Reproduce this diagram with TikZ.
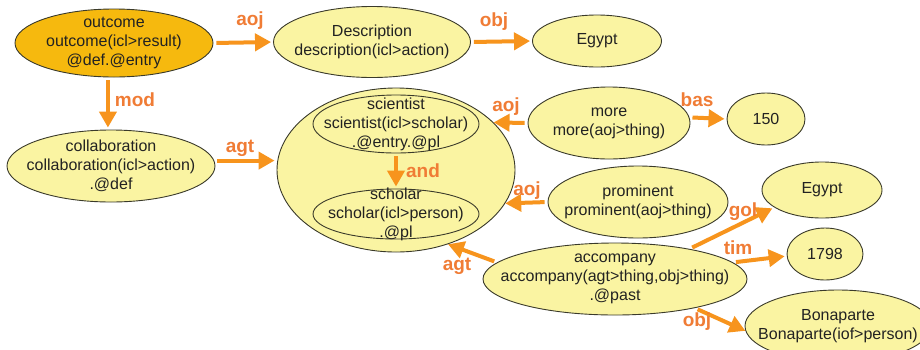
\documentclass[tikz,border=0pt]{standalone}
\usepackage{fontspec}
\setmainfont{Liberation Sans}
\usetikzlibrary{shapes.geometric,arrows.meta}
\definecolor{nodefill}{HTML}{FAF4A2}
\definecolor{rootfill}{HTML}{F6B90E}
\definecolor{arrowc}{HTML}{F7941D}
\definecolor{relc}{HTML}{F07C35}
\definecolor{rim}{HTML}{3A3A2A}
\definecolor{ink}{HTML}{222222}
\begin{document}
\begin{tikzpicture}[x=1pt,y=-1pt,
  ell/.style={ellipse, draw=rim, line width=0.9pt, fill=nodefill, inner sep=0pt},
  txt/.style={align=center, text=ink, font=\fontsize{16}{19}\selectfont, inner sep=0pt},
  rel/.style={text=relc, font=\fontsize{19}{22}\selectfont\bfseries, inner sep=0pt},
  arr/.style={draw=arrowc, line width=4pt, -{Triangle[length=16pt,width=17pt]}, shorten <=3pt, shorten >=2pt}]
\clip (0,0) rectangle (920,349);
\fill[white] (0,0) rectangle (920,349);

% concept nodes
\node[ell, fill=rootfill, minimum width=198pt, minimum height=68pt,
  label={[txt]center:outcome\\outcome(icl>result)\\@def.@entry}] (out) at (114,43) {};
\node[ell, minimum width=197pt, minimum height=71pt,
  label={[txt]center:Description\\description(icl>action)}] (desc) at (372,42) {};
\node[ell, minimum width=129pt, minimum height=52pt,
  label={[txt]center:Egypt}] (eg1) at (597,41) {};
\node[ell, minimum width=208pt, minimum height=72pt,
  label={[txt]center:collaboration\\collaboration(icl>action)\\.@def}] (col) at (111,166) {};

% compound node holding the two scholars
\node[ell, minimum width=238pt, minimum height=164pt] (big) at (396,170) {};
\node[ell, minimum width=166pt, minimum height=58pt,
  label={[txt]center:scientist\\scientist(icl>scholar)\\.@entry.@pl}] (sci) at (396,124) {};
\node[ell, minimum width=166pt, minimum height=50pt,
  label={[txt]center:scholar\\scholar(icl>person)\\.@pl}] (sch) at (396,214) {};

\node[ell, minimum width=162pt, minimum height=72pt,
  label={[txt]center:more\\more(aoj>thing)}] (more) at (609,123) {};
\node[ell, minimum width=78pt, minimum height=52pt,
  label={[txt]center:150}] (n150) at (766,119) {};
\node[ell, minimum width=180pt, minimum height=72pt,
  label={[txt]center:prominent\\prominent(aoj>thing)}] (prom) at (638,202) {};
\node[ell, minimum width=120pt, minimum height=56pt,
  label={[txt]center:Egypt}] (eg2) at (822,190) {};
\node[ell, minimum width=76pt, minimum height=52pt,
  label={[txt]center:1798}] (n1798) at (825,254) {};
\node[ell, minimum width=264pt, minimum height=72pt,
  label={[txt]center:accompany\\accompany(agt>thing,obj>thing)\\.@past}] (acc) at (615,279) {};
\node[ell, minimum width=186pt, minimum height=72pt,
  label={[txt]center:Bonaparte\\Bonaparte(iof>person)}] (bon) at (838,326) {};

% relations
\draw[arr] (out.east) -- (desc.west);
\draw[arr] (desc.east) -- (eg1.west);
\draw[arr] (out.260) -- (out.260 |- col.north);
\draw[arr] (col.3) -- (col.3 -| big.west);
\draw[arr] (sci.south) -- (sch.north);
\draw[arr, shorten >=0pt] (more.west) -- (big.26);
\draw[arr] (more.4) -- (n150.west);
\draw[arr, shorten >=0pt] (prom.west) -- (big.-17);
\draw[arr] (acc.22) -- (eg2.200);
\draw[arr] (acc.8) -- (n1798.183);
\draw[arr, shorten >=0pt] (acc.-20) -- (bon.183);
\draw[arr, shorten >=0pt] (acc.172) -- (big.-55);

% relation labels
\node[rel] (l-aoj1) at (250,21) {aoj};
\node[rel] (l-obj1) at (494,22) {obj};
\node[rel] (l-mod) at (135,100) {mod};
\node[rel] (l-agt1) at (240,148) {agt};
\node[rel] (l-and) at (423,171) {and};
\node[rel] (l-aoj2) at (506,107) {aoj};
\node[rel] (l-bas) at (697,100) {bas};
\node[rel] (l-aoj3) at (527,191) {aoj};
\node[rel] (l-gol) at (743,212) {gol};
\node[rel] (l-tim) at (738,248) {tim};
\node[rel] (l-obj2) at (697,322) {obj};
\node[rel] (l-agt2) at (457,266) {agt};
\end{tikzpicture}
\end{document}
